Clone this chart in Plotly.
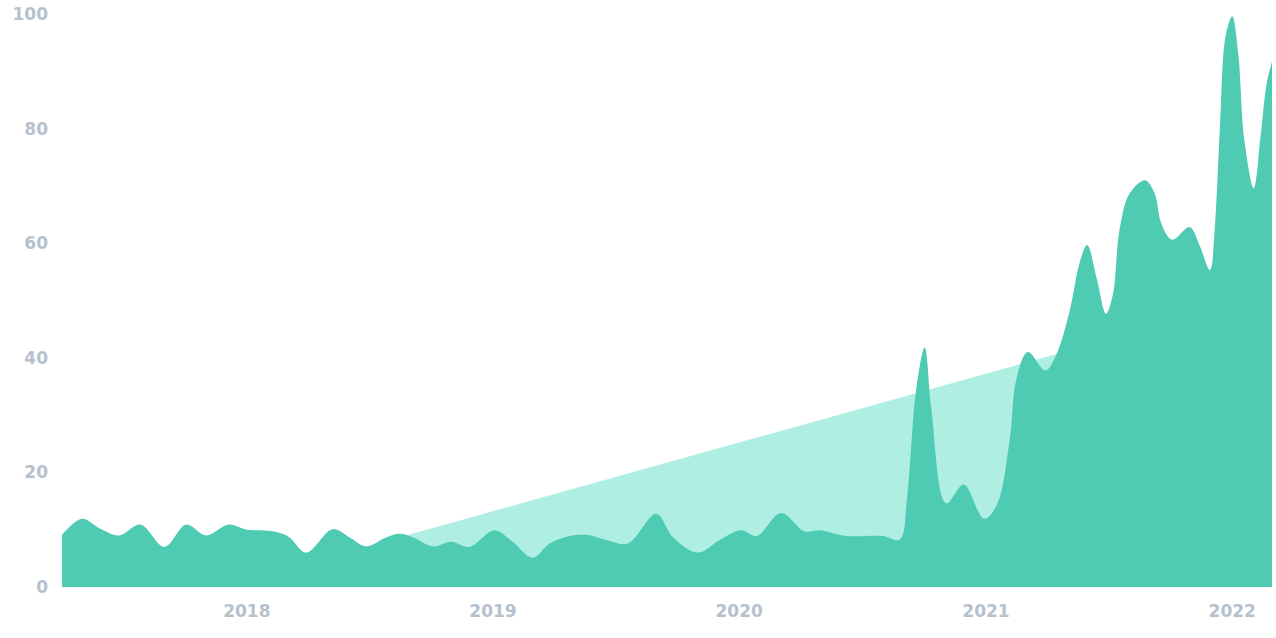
import plotly.graph_objects as go

# weekly-ish activity readings (dark series)
dates = [
    "2017-04-02", "2017-05-02", "2017-05-28", "2017-06-26", "2017-07-27", "2017-09-01",
    "2017-10-03", "2017-11-02", "2017-12-05", "2018-01-01", "2018-01-20", "2018-02-14",
    "2018-03-05", "2018-03-30", "2018-05-08", "2018-06-02", "2018-06-27", "2018-07-27",
    "2018-08-16", "2018-09-04", "2018-10-04", "2018-10-31", "2018-11-27", "2019-01-03",
    "2019-01-30", "2019-03-01", "2019-03-26", "2019-04-25", "2019-05-19", "2019-06-18",
    "2019-07-20", "2019-08-31", "2019-09-25", "2019-11-01", "2019-12-03", "2020-01-04",
    "2020-01-27", "2020-03-03", "2020-04-07", "2020-04-29", "2020-06-08", "2020-08-01",
    "2020-08-26", "2020-09-06", "2020-09-19", "2020-10-02", "2020-10-12",
    "2020-11-03", "2020-11-29", "2020-12-29", "2021-01-17", "2021-02-05",
    "2021-02-15", "2021-03-04", "2021-03-30", "2021-04-15", "2021-05-05", "2021-05-20",
    "2021-05-31", "2021-06-14", "2021-06-28", "2021-07-08", "2021-07-18", "2021-08-02",
    "2021-08-25", "2021-09-08", "2021-09-18", "2021-10-04", "2021-10-30", "2021-11-14",
    "2021-11-29", "2021-12-06", "2021-12-14", "2021-12-22", "2022-01-01",
    "2022-01-10", "2022-01-19", "2022-02-02", "2022-02-12", "2022-02-21",
    "2022-03-01",
]
values = [
    9.1, 11.9, 10.2, 9.0, 10.9, 7.0,
    10.9, 9.0, 10.9, 10.0, 9.9, 9.6,
    8.7, 6.0, 10.1, 8.7, 7.1, 8.7,
    9.3, 8.7, 7.1, 7.9, 7.0, 9.9,
    7.9, 5.1, 7.6, 8.9, 9.1, 8.2,
    7.6, 12.8, 8.7, 6.0, 8.2, 9.9,
    8.9, 12.9, 9.7, 9.9, 8.9, 8.9,
    8.3, 15.7, 34.0, 41.8, 31.0,
    14.6, 17.9, 11.9, 14.3, 25.6,
    36.3, 41.0, 37.8, 40.5, 48.2, 56.7,
    59.7, 53.9, 47.7, 51.0, 62.4, 68.7,
    71.0, 68.7, 63.4, 60.6, 62.8, 59.5,
    55.3, 62.4, 80.7, 96.0, 99.6,
    93.0, 78.0, 69.6, 78.6, 87.8,
    91.7,
]

# lighter comparison series (only two readings, joined straight)
trend_dates = ["2018-08-13", "2021-04-23"]
trend_values = [8.6, 40.9]

year_ticks = ["2018-01-01", "2019-01-01", "2020-01-01", "2021-01-01", "2022-01-01"]
year_labels = ["2018", "2019", "2020", "2021", "2022"]

fig = go.Figure()
fig.add_trace(go.Scatter(
    x=trend_dates, y=trend_values,
    mode="lines", fill="tozeroy",
    line=dict(width=0, color="#afeee3"),
    fillcolor="#afeee3",
    hoverinfo="skip",
))
fig.add_trace(go.Scatter(
    x=dates, y=values,
    mode="lines", fill="tozeroy",
    line=dict(width=0, color="#4fcbb3", shape="spline", smoothing=1.0),
    fillcolor="#4fcbb3",
))

tick_font = dict(family="DejaVu Sans", size=17, color="#b6c1ce", weight="bold")
fig.update_layout(
    width=1276, height=638,
    margin=dict(l=62, r=4, t=11, b=51),
    plot_bgcolor="white", paper_bgcolor="white",
    showlegend=False,
    xaxis=dict(
        type="date", range=["2017-04-02", "2022-03-01"],
        tickvals=year_ticks, ticktext=year_labels,
        showgrid=False, zeroline=False, showline=False,
        tickfont=tick_font, ticklabelstandoff=12,
    ),
    yaxis=dict(
        range=[0, 100], tickvals=[0, 20, 40, 60, 80, 100],
        showgrid=False, zeroline=False, showline=False,
        tickfont=tick_font, ticklabelstandoff=13,
    ),
)

fig.write_html(
    "out.html",
    config={"displayModeBar": False},
    post_script="document.body.style.margin='0';document.body.style.overflow='hidden';",
)
